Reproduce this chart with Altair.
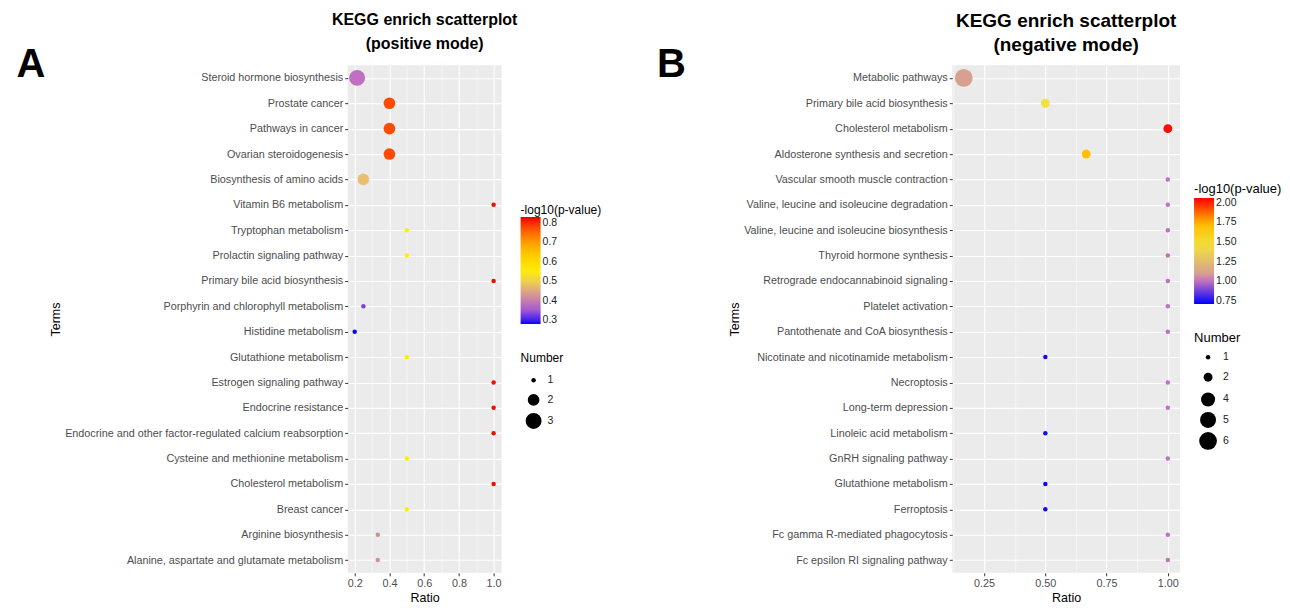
import altair as alt
import pandas as pd

FONT = "Liberation Sans"

# ---------------- data ----------------
pos_terms = [
    "Steroid hormone biosynthesis", "Prostate cancer", "Pathways in cancer",
    "Ovarian steroidogenesis", "Biosynthesis of amino acids", "Vitamin B6 metabolism",
    "Tryptophan metabolism", "Prolactin signaling pathway", "Primary bile acid biosynthesis",
    "Porphyrin and chlorophyll metabolism", "Histidine metabolism", "Glutathione metabolism",
    "Estrogen signaling pathway", "Endocrine resistance",
    "Endocrine and other factor-regulated calcium reabsorption",
    "Cysteine and methionine metabolism", "Cholesterol metabolism", "Breast cancer",
    "Arginine biosynthesis", "Alanine, aspartate and glutamate metabolism",
]
pos_ratio = [0.214, 0.4, 0.4, 0.4, 0.25, 1.0, 0.5, 0.5, 1.0, 0.25,
             0.2, 0.5, 1.0, 1.0, 1.0, 0.5, 1.0, 0.5, 0.333, 0.333]
pos_number = [3, 2, 2, 2, 2, 1, 1, 1, 1, 1, 1, 1, 1, 1, 1, 1, 1, 1, 1, 1]
pos_logp = [0.38, 0.78, 0.78, 0.78, 0.47, 0.82, 0.56, 0.56, 0.82, 0.32,
            0.285, 0.56, 0.82, 0.82, 0.82, 0.56, 0.82, 0.56, 0.43, 0.43]

neg_terms = [
    "Metabolic pathways", "Primary bile acid biosynthesis", "Cholesterol metabolism",
    "Aldosterone synthesis and secretion", "Vascular smooth muscle contraction",
    "Valine, leucine and isoleucine degradation", "Valine, leucine and isoleucine biosynthesis",
    "Thyroid hormone synthesis", "Retrograde endocannabinoid signaling", "Platelet activation",
    "Pantothenate and CoA biosynthesis", "Nicotinate and nicotinamide metabolism",
    "Necroptosis", "Long-term depression", "Linoleic acid metabolism", "GnRH signaling pathway",
    "Glutathione metabolism", "Ferroptosis", "Fc gamma R-mediated phagocytosis",
    "Fc epsilon RI signaling pathway",
]
neg_ratio = [0.167, 0.5, 1.0, 0.667, 1.0, 1.0, 1.0, 1.0, 1.0, 1.0,
             1.0, 0.5, 1.0, 1.0, 0.5, 1.0, 0.5, 0.5, 1.0, 1.0]
neg_number = [6, 2, 2, 2, 1, 1, 1, 1, 1, 1, 1, 1, 1, 1, 1, 1, 1, 1, 1, 1]
neg_logp = [1.1, 1.45, 2.04, 1.72, 1.0, 1.0, 1.0, 1.0, 1.0, 1.0,
            1.0, 0.73, 1.0, 1.0, 0.73, 1.0, 0.73, 0.73, 1.0, 1.0]

pos_title = ["KEGG enrich scatterplot", "(positive mode)"]
neg_title = ["KEGG enrich scatterplot", "(negative mode)"]
pos_x_ticks = [0.2, 0.4, 0.6, 0.8, 1.0]
pos_x_minor = [0.3, 0.5, 0.7, 0.9]
neg_x_ticks = [0.25, 0.5, 0.75, 1.0]
neg_x_minor = [0.125, 0.375, 0.625, 0.875]
pos_color_ticks = [0.3, 0.4, 0.5, 0.6, 0.7, 0.8]
neg_color_ticks = [0.75, 1.0, 1.25, 1.5, 1.75, 2.0]
pos_size_ticks = [1, 2, 3]
neg_size_ticks = [1, 2, 4, 5, 6]
panel_letters = ["A", "B"]

LABEL_FS = 10.8


def panel(terms, ratio, number, logp, title, letter, x_domain, x_ticks, x_minor, x_fmt,
          size_domain, size_range, size_ticks, c_domain, c_range, c_ticks, c_fmt,
          width, letter_x, legend_x, color_legend_y, size_legend_y, grad_len,
          title_fs, title_offset, legend_title_fs, row_pad, terms_x, c_title_pad, s_title_pad):
    df = pd.DataFrame({"term": terms, "ratio": ratio, "number": number, "logp": logp})
    xscale = alt.Scale(domain=x_domain, nice=False, zero=False)
    yenc = alt.Y("term:N", sort=terms, scale=alt.Scale(type="point", padding=0.5),
                 axis=alt.Axis(title="Terms", grid=True, gridColor="white", gridWidth=1.1,
                               domain=False, tickColor="#333333", tickSize=3, tickWidth=1,
                               labelColor="#4D4D4D", labelFontSize=LABEL_FS, labelPadding=2,
                               titleFontSize=12.5, titleFontWeight="normal", titleColor="black",
                               titleX=terms_x, titleBaseline="middle", titleAlign="center",
                               labelLimit=400))
    minor = alt.Chart(df).mark_circle(opacity=0).encode(
        x=alt.X("ratio:Q", scale=xscale,
                axis=alt.Axis(orient="top", values=x_minor, grid=True, gridColor="white",
                              gridWidth=0.5, labels=False, ticks=False, domain=False, title=None)),
        y=yenc,
    )
    pts = alt.Chart(df).mark_circle(opacity=1).encode(
        x=alt.X("ratio:Q", scale=xscale,
                axis=alt.Axis(title="Ratio", values=x_ticks, format=x_fmt, grid=True,
                              gridColor="white", gridWidth=1.1, domain=False,
                              tickColor="#333333", tickSize=3, tickWidth=1,
                              labelColor="#4D4D4D", labelFontSize=LABEL_FS, labelPadding=2,
                              titleFontSize=12.5, titleFontWeight="normal", titleColor="black",
                              titlePadding=3)),
        y=yenc,
        size=alt.Size("number:Q", scale=alt.Scale(domain=size_domain, range=size_range, zero=False),
                      legend=alt.Legend(title="Number", orient="none", legendX=legend_x,
                                        legendY=size_legend_y, values=size_ticks, format="d",
                                        symbolFillColor="black", symbolStrokeWidth=0,
                                        symbolType="circle", labelFontSize=10.5,
                                        titleFontSize=legend_title_fs, titlePadding=s_title_pad,
                                        titleFontWeight="normal", rowPadding=row_pad,
                                        gridAlign="all", symbolOffset=5,
                                        symbolOpacity=1, labelOffset=6)),
        color=alt.Color("logp:Q", scale=alt.Scale(domain=c_domain, range=c_range, interpolate="rgb"),
                        legend=alt.Legend(title="-log10(p-value)", orient="none", legendX=legend_x,
                                          legendY=color_legend_y, values=c_ticks, format=c_fmt,
                                          gradientLength=grad_len, gradientThickness=20,
                                          gradientStrokeWidth=0, labelFontSize=10.5,
                                          titleFontSize=legend_title_fs, titleFontWeight="normal",
                                          titlePadding=c_title_pad, direction="vertical")),
        order=alt.Order("number:Q", sort="descending"),
    )
    lab = alt.Chart(pd.DataFrame({"letter": [letter]})).mark_text(
        fontSize=40, fontWeight="bold", font="Liberation Sans", align="center",
        baseline="alphabetic", color="black").encode(
        x=alt.value(letter_x), y=alt.value(12), text="letter:N")
    return alt.layer(minor, pts, lab).resolve_axis(x="independent").resolve_scale(
        color="independent", size="independent").properties(
        width=width, height=508,
        title=alt.TitleParams(text=title, anchor="middle", fontSize=title_fs, fontWeight="bold",
                              font=FONT, color="black", lineHeight=24, offset=title_offset))


left = panel(pos_terms, pos_ratio, pos_number, pos_logp, pos_title, panel_letters[0],
             [0.16, 1.046], pos_x_ticks, pos_x_minor, ".1f",
             [1, 3], [20, 254], pos_size_ticks,
             [0.28, 0.32, 0.38, 0.43, 0.47, 0.56, 0.68, 0.78, 0.83],
             ["#0000ff", "#8040e0", "#c070c0", "#d09090", "#e8c070", "#fff000", "#ffb000",
              "#ff4a00", "#e80000"],
             pos_color_ticks, ".1f", 154, -317, 173, 140, 288, 107,
             16, -7, 12, 3, -292, 0, 10)

right = panel(neg_terms, neg_ratio, neg_number, neg_logp, neg_title, panel_letters[1],
              [0.12, 1.05], neg_x_ticks, neg_x_minor, ".2f",
              [1, 6], [20, 314], neg_size_ticks,
              [0.71, 1.0, 1.1, 1.45, 1.72, 2.06],
              ["#0000ff", "#c070c0", "#d8a090", "#f0e040", "#ffc000", "#ff0000"],
              neg_color_ticks, ".2f", 228, -281, 242, 118, 267, 106,
              19, -10, 13, 2, -218, 2, 7)

chart = alt.hconcat(left, right, spacing=55).resolve_scale(
    x="independent", y="independent", color="independent", size="independent"
).properties(padding={"left": 8, "top": 4, "right": 0, "bottom": 0}).configure(
    font=FONT
).configure_view(fill="#EBEBEB", stroke=None).configure_legend(
    labelFont=FONT, titleFont=FONT, labelColor="#222222", titleColor="black"
).configure_axis(labelFont=FONT, titleFont=FONT)

chart.save("out.html", embed_options={"renderer": "svg", "actions": False})
